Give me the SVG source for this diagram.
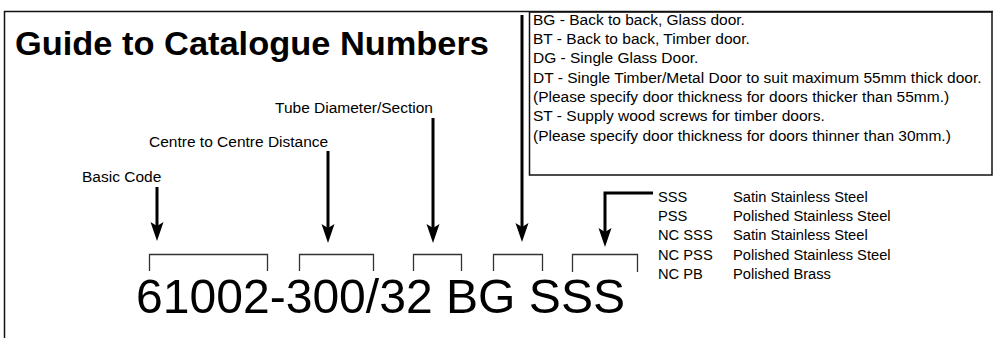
<svg xmlns="http://www.w3.org/2000/svg" width="993" height="338" viewBox="0 0 993 338">
<style>
  text { font-family: "Liberation Sans", Arial, sans-serif; fill: #000; }
  .title { font-size: 33px; font-weight: bold; }
  .lbl { font-size: 15.5px; }
  .box { font-size: 15.5px; }
  .lst { font-size: 14.7px; }
  .code { font-size: 48px; }
  .frame { fill: none; stroke: #111; stroke-width: 1.5; }
  .br { fill: none; stroke: #333; stroke-width: 1.3; }
  .arr { fill: none; stroke: #000; stroke-width: 3; marker-end: url(#ah); }
</style>
<defs>
  <marker id="ah" markerUnits="userSpaceOnUse" markerWidth="20" markerHeight="14" refX="4" refY="7" orient="auto">
    <path d="M0,0.5 L19,7 L0,13.5 L4,7 Z" fill="#000"/>
  </marker>
</defs>
<rect width="993" height="338" fill="#fff"/>
<g id="frame">
  <path class="frame" d="M4.5,338 V11.5 H993"/>
</g>
<g id="title">
  <text class="title" x="15" y="55" textLength="474" lengthAdjust="spacingAndGlyphs">Guide to Catalogue Numbers</text>
</g>
<g id="legend-box">
  <rect class="frame" x="529.5" y="12" width="462.5" height="163"/>
  <text class="box" x="533" y="24.5">BG - Back to back, Glass door.</text>
  <text class="box" x="533" y="43.8">BT - Back to back, Timber door.</text>
  <text class="box" x="533" y="63.1">DG - Single Glass Door.</text>
  <text class="box" x="533" y="82.5">DT - Single Timber/Metal Door to suit maximum 55mm thick door.</text>
  <text class="box" x="533" y="101.8">(Please specify door thickness for doors thicker than 55mm.)</text>
  <text class="box" x="533" y="121.1">ST - Supply wood screws for timber doors.</text>
  <text class="box" x="533" y="140.5">(Please specify door thickness for doors thinner than 30mm.)</text>
</g>
<g id="label-tube">
  <text class="lbl" x="275" y="113">Tube Diameter/Section</text>
</g>
<g id="label-centre">
  <text class="lbl" x="149" y="147">Centre to Centre Distance</text>
</g>
<g id="label-basic">
  <text class="lbl" x="82" y="182">Basic Code</text>
</g>
<g id="finish-list">
  <text class="lst" x="658" y="202">SSS</text>
  <text class="lst" x="733" y="202">Satin Stainless Steel</text>
  <text class="lst" x="658" y="221">PSS</text>
  <text class="lst" x="733" y="221">Polished Stainless Steel</text>
  <text class="lst" x="658" y="240">NC SSS</text>
  <text class="lst" x="733" y="240">Satin Stainless Steel</text>
  <text class="lst" x="658" y="259.5">NC PSS</text>
  <text class="lst" x="733" y="259.5">Polished Stainless Steel</text>
  <text class="lst" x="658" y="279">NC PB</text>
  <text class="lst" x="733" y="279">Polished Brass</text>
</g>
<g id="brackets">
  <path class="br" d="M149.5,271 V254.5 H267.5 V271"/>
  <path class="br" d="M299.5,271 V254.5 H373.5 V271"/>
  <path class="br" d="M413.5,271 V254.5 H461.5 V271"/>
  <path class="br" d="M493.5,271 V254.5 H542.5 V271"/>
  <path class="br" d="M572.5,272 V254.5 H637.5 V272"/>
</g>
<g id="code">
  <text class="code" x="136" y="313" textLength="489" lengthAdjust="spacingAndGlyphs">61002-300/32 BG SSS</text>
</g>
<g id="connectors">
  <path class="arr" d="M157,187 V226"/>
  <path class="arr" d="M328,151 V228"/>
  <path class="arr" d="M433,118 V228"/>
  <path class="arr" d="M522,15 V227"/>
  <path class="arr" d="M653,193 H605 V232"/>
</g>
</svg>
